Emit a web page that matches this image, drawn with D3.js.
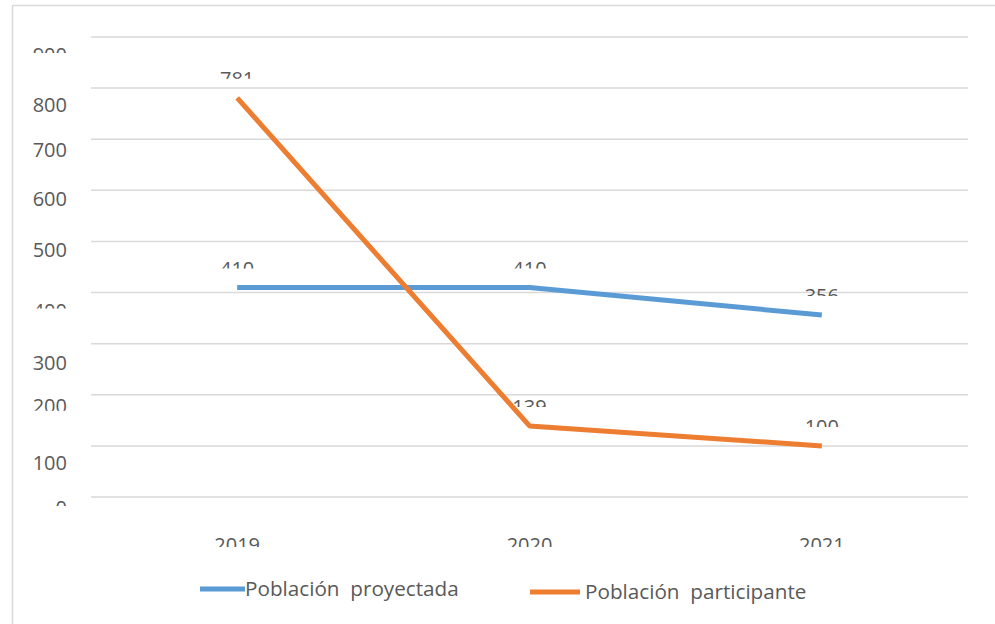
<!DOCTYPE html>
<html><head><meta charset="utf-8">
<script src="https://cdn.jsdelivr.net/npm/d3@7"></script>
<style>body{margin:0;background:#fff}svg{display:block}text{font-family:"Open Sans",sans-serif;fill:#595959}</style>
</head><body><svg id="c" width="995" height="624"></svg>
<script>
const years = ["2019","2020","2021"];
const proyectada = [410, 410, 356];
const participante = [781, 139, 100];
const yTicks = [0,100,200,300,400,500,600,700,800,900];
const seriesNames = ["Población  proyectada","Población  participante"];
const colors = ["#5b9bd5","#ed7d31"];

// layout quirks of the source rendering (label top offset / visible height, px)
const tickTopShift = {900:11,800:10,700:3,600:1,500:1,400:11,300:12,200:4,100:10,0:4};
const tickVisible = {900:5,400:5,200:12,0:5};

const svg = d3.select("#c");
const fs = 20, cap = fs*0.714;
const x = d3.scaleBand().domain(years).range([91,968]);
const y = d3.scaleLinear().domain([0,900]).range([497,37]);
const defs = svg.append("defs");
let cid = 0;
function clippedText(g, txt, cx, top, vis, anchor){
  const id = "cl"+(cid++);
  defs.append("clipPath").attr("id",id).append("rect")
    .attr("x",cx-80).attr("y",top-2).attr("width",160).attr("height",vis+2);
  g.append("text").attr("x",cx).attr("y",top+cap).attr("text-anchor",anchor)
    .attr("font-size",fs).attr("clip-path",`url(#${id})`).text(txt);
}

// border
svg.append("line").attr("x1",12.5).attr("x2",12.5).attr("y1",5).attr("y2",624).attr("stroke","#d9d9d9").attr("stroke-width",1.5);
svg.append("line").attr("x1",12).attr("x2",995).attr("y1",5.5).attr("y2",5.5).attr("stroke","#d9d9d9").attr("stroke-width",1.5);

// gridlines
svg.append("g").selectAll("line").data(yTicks).join("line")
  .attr("x1",91).attr("x2",968).attr("y1",d=>y(d)).attr("y2",d=>y(d))
  .attr("stroke","#d9d9d9").attr("stroke-width",1.5);

// y labels
const gy = svg.append("g");
yTicks.forEach(t=>{
  const top = y(t)+tickTopShift[t];
  clippedText(gy, String(t), 67, top, tickVisible[t]!==undefined?tickVisible[t]:30, "end");
});

// x labels
const gx = svg.append("g");
years.forEach(yr=>{
  clippedText(gx, yr, x(yr)+x.bandwidth()/2, y(0)+41, 9, "middle");
});

// lines
const line = d3.line().x((d,i)=>x(years[i])+x.bandwidth()/2).y(d=>y(d));
[proyectada, participante].forEach((s,k)=>{
  svg.append("path").datum(s).attr("d",line).attr("fill","none")
    .attr("stroke",colors[k]).attr("stroke-width",5).attr("stroke-linejoin","round");
});

// data labels
const gl = svg.append("g");
[proyectada, participante].forEach(s=>{
  s.forEach((v,i)=>{
    clippedText(gl, String(v), x(years[i])+x.bandwidth()/2, y(v)-26, 7, "middle");
  });
});

// legend
const leg = svg.append("g");
const legItems = [{x1:200,x2:245,ly:589,tx:245},{x1:530,x2:580,ly:592,tx:585}];
legItems.forEach((it,k)=>{
  leg.append("line").attr("x1",it.x1).attr("x2",it.x2).attr("y1",it.ly).attr("y2",it.ly)
    .attr("stroke",colors[k]).attr("stroke-width",5);
  leg.append("text").attr("x",it.tx).attr("y",it.ly).attr("dy","0.35em").attr("font-size",20.7)
    .attr("xml:space","preserve").style("white-space","pre").text(seriesNames[k]);
});
</script></body></html>
